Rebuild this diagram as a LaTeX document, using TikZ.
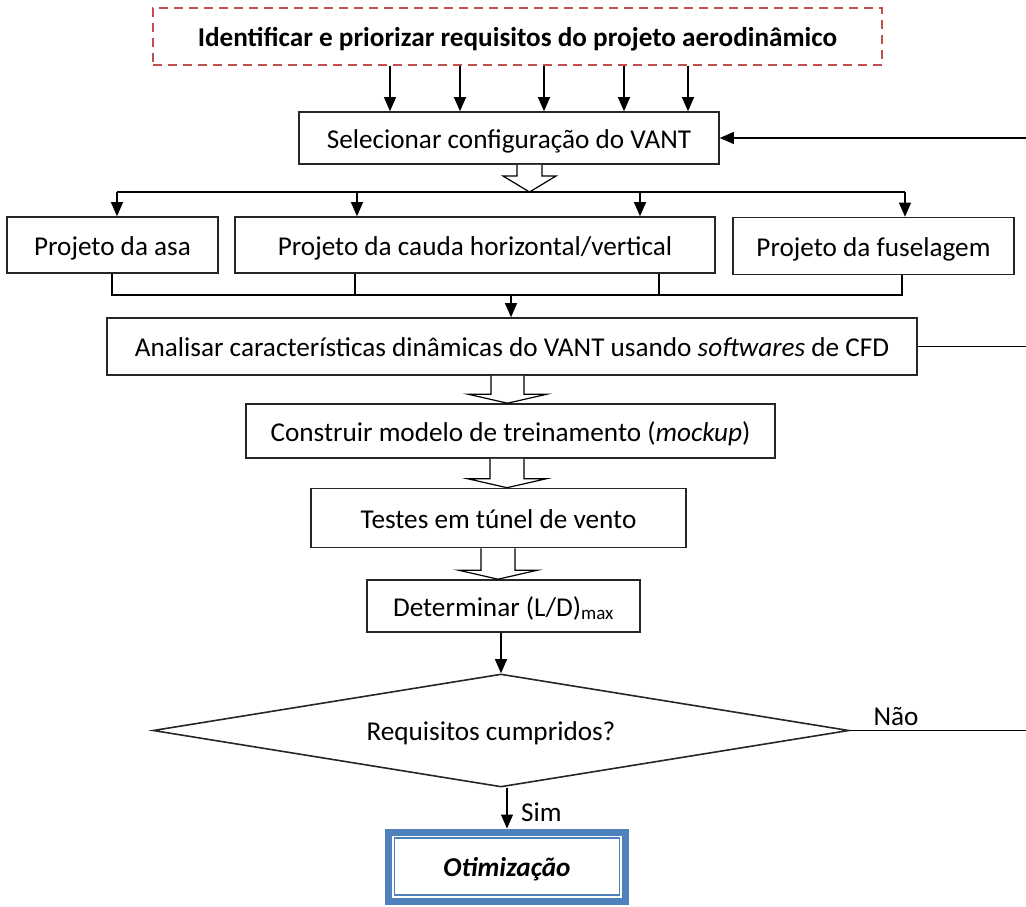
\documentclass[tikz,border=0pt]{standalone}
\usepackage{fontspec}
\setmainfont{Carlito}
\usetikzlibrary{arrows.meta,shapes.geometric,calc}
\definecolor{dashred}{HTML}{C0504D}
\definecolor{otmblue}{HTML}{4F81BD}
\tikzset{
  box/.style={draw=black!85, line width=1.6pt, rectangle, inner sep=0pt, align=center, text height=23pt, text depth=2.5pt, font=\fontsize{27.2}{32}\selectfont},
  conn/.style={draw=black, line width=1.1pt},
  arr/.style={conn, -{Triangle[length=14pt,width=12pt]}},
  fat/.style={draw=black, line width=1.2pt, fill=white, line join=miter},
  lbl/.style={inner sep=0pt, font=\fontsize{27.2}{32}\selectfont},
}
\newcommand\fatarrow[5]{\draw[fat] let \p1=(#1), \p2=(#2) in (\x1-#3,\y1) -- (\x1-#3,\y2+#5) -- (\x1-#4,\y2+#5) -- (\x1,\y2) -- (\x1+#4,\y2+#5) -- (\x1+#3,\y2+#5) -- (\x1+#3,\y1);}
\begin{document}
\begin{tikzpicture}[x=1pt,y=-1pt]
\useasboundingbox (0,0) rectangle (1026,907);
% nodes
\node[box, draw=dashred, dash pattern=on 9pt off 6pt, minimum width=729pt, minimum height=57pt, font=\fontsize{27.2}{32}\selectfont\bfseries] (req) at (517.5,36.5) {Identificar e priorizar requisitos do projeto aerodinâmico};
\node[box, minimum width=420pt, minimum height=52pt] (sel) at (509,138) {Selecionar configuração do VANT};
\node[box, minimum width=211pt, minimum height=56pt] (asa) at (112.5,245) {Projeto da asa};
\node[box, minimum width=480pt, minimum height=56pt] (cauda) at (475,245) {Projeto da cauda horizontal/vertical};
\node[box, minimum width=281pt, minimum height=57pt] (fus) at (873.5,246) {Projeto da fuselagem};
\node[box, minimum width=810pt, minimum height=57pt] (cfd) at (512,346.5) {Analisar características dinâmicas do VANT usando \textit{softwares} de CFD};
\node[box, minimum width=529pt, minimum height=54pt] (mock) at (510.5,431) {Construir modelo de treinamento (\textit{mockup})};
\node[box, minimum width=375pt, minimum height=59pt] (test) at (498.5,518) {Testes em túnel de vento};
\node[box, minimum width=273pt, minimum height=52pt] (det) at (503.5,606) {Determinar (L/D)\textsubscript{max}};
\node[draw=black!85, line width=1.6pt, diamond, minimum width=696pt, minimum height=113pt, inner sep=0pt] (dec) at (501,730.5) {};
\node[lbl] (dectxt) at (491,733) {Requisitos cumpridos?};
\node[lbl] (nao) at (896,717) {Não};
\node[lbl, anchor=west] (sim) at (521,812) {Sim};
\node[draw=otmblue, line width=7pt, minimum width=237pt, minimum height=69pt, inner sep=0pt, text height=23pt, text depth=2.5pt, font=\fontsize{27.2}{32}\selectfont\bfseries\itshape] (otm) at (507,866.5) {Otimização};
\draw[otmblue, line width=1.4pt] ($(otm.north west)+(9.5,9.5)$) rectangle ($(otm.south east)+(-9.5,-9.5)$);
% coordinates
\coordinate (fbR) at (1026,138);
\coordinate (brL) at (117,192);
\coordinate (brR) at (905,192);
\coordinate (mgL) at (112,295);
\coordinate (mgR) at (902,295);
\coordinate (mg) at (511,295);
\coordinate (cfdR) at (1026,347);
\coordinate (naoR) at (1026,730.5);
% connectors
\foreach \x in {390,460,544,624,688} \draw[arr] (\x,0 |- req.south) -- (\x,0 |- sel.north);
\draw[arr] (fbR |- sel.east) -- (sel.east);
\fatarrow{529.5,0 |- sel.south}{529.5,0 |- brL}{12.5pt}{26.5pt}{16pt}
\draw[conn] (brL) -- (brR);
\draw[arr] (brL) -- (brL |- asa.north);
\draw[arr] (357,192) -- (357,0 |- cauda.north);
\draw[arr] (640,192) -- (640,0 |- cauda.north);
\draw[arr] (brR) -- (brR |- fus.north);
\draw[conn] (mgL |- asa.south) -- (mgL) -- (mgR) -- (mgR |- fus.south);
\draw[conn] (355,0 |- cauda.south) -- (355,295);
\draw[conn] (659,0 |- cauda.south) -- (659,295);
\draw[arr] (mg) -- (mg |- cfd.north);
\draw[conn] (cfd.east) -- (cfdR |- cfd.east);
\fatarrow{507.5,0 |- cfd.south}{507.5,0 |- mock.north}{16.5pt}{39.5pt}{9pt}
\fatarrow{507,0 |- mock.south}{507,0 |- test.north}{17pt}{39.5pt}{9pt}
\fatarrow{498,0 |- test.south}{498,0 |- det.north}{17pt}{39.5pt}{9pt}
\draw[arr] (dec.north |- det.south) -- (dec.north);
\draw[conn] (dec.east) -- (naoR |- dec.east);
\draw[arr] (otm.north |- dec.south) -- (otm.north);
\end{tikzpicture}
\end{document}
